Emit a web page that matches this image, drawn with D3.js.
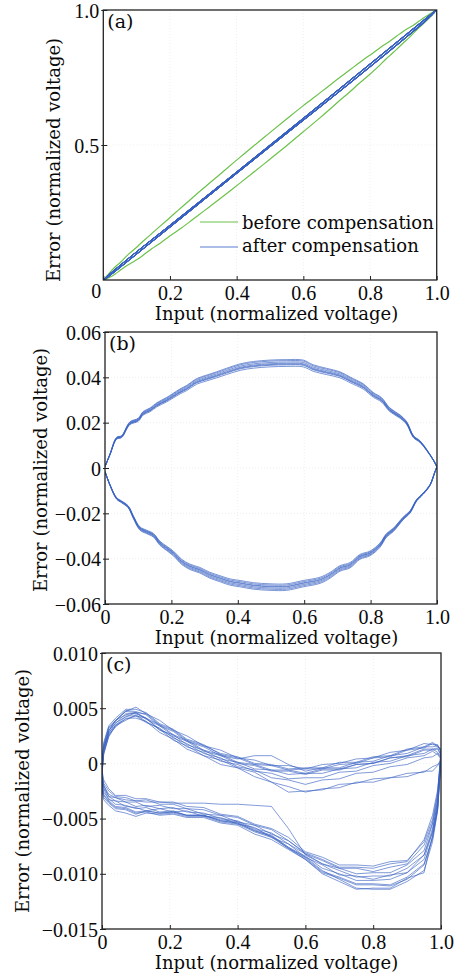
<!DOCTYPE html>
<html>
<head>
<meta charset="utf-8">
<script src="https://cdn.jsdelivr.net/npm/d3@7"></script>
<style>
  body { margin: 0; background: #fff; }
  svg { display: block; }
</style>
</head>
<body>
<svg id="chart" width="459" height="977"></svg>
<script>
// ---------- data ----------
// Panel (b): hysteresis error before compensation (normalized voltage)
const xUpperB = [0, 0.015, 0.035, 0.05, 0.075, 0.10, 0.115, 0.136, 0.156, 0.185, 0.205, 0.226, 0.246, 0.276, 0.306, 0.336, 0.366, 0.407, 0.447, 0.497, 0.547, 0.597, 0.627, 0.667, 0.708, 0.738, 0.758, 0.778, 0.808, 0.833, 0.858, 0.889, 0.909, 0.929, 0.949, 0.969, 0.989, 1.0];
const errUpperB = [0.0006, 0.0060, 0.0131, 0.0138, 0.0197, 0.0212, 0.0241, 0.0256, 0.0278, 0.0300, 0.0318, 0.0337, 0.0352, 0.0381, 0.0396, 0.0410, 0.0425, 0.0444, 0.0454, 0.0460, 0.0462, 0.0460, 0.0440, 0.0425, 0.0410, 0.0388, 0.0374, 0.0359, 0.0322, 0.0300, 0.0256, 0.0226, 0.0197, 0.0138, 0.0116, 0.0079, 0.0035, 0.0005];
const xLowerB = [0, 0.015, 0.035, 0.05, 0.07, 0.085, 0.105, 0.125, 0.146, 0.166, 0.186, 0.206, 0.231, 0.256, 0.286, 0.316, 0.346, 0.377, 0.407, 0.447, 0.497, 0.547, 0.597, 0.648, 0.678, 0.708, 0.738, 0.768, 0.798, 0.828, 0.848, 0.868, 0.898, 0.919, 0.939, 0.959, 0.979, 0.994, 1.0];
const errLowerB = [-0.0016, -0.0075, -0.0134, -0.0149, -0.0171, -0.0215, -0.0266, -0.0281, -0.0296, -0.0332, -0.0354, -0.0376, -0.0413, -0.0435, -0.0450, -0.0472, -0.0487, -0.0502, -0.0509, -0.0519, -0.0524, -0.0524, -0.0509, -0.0494, -0.0472, -0.0442, -0.0428, -0.0391, -0.0376, -0.0340, -0.0296, -0.0273, -0.0222, -0.0193, -0.0141, -0.0112, -0.0075, -0.0016, 0.0005];
// amplitude of each repeated cycle relative to the mean loop
const cycleGainUpperB = [0.970, 0.985, 1.000, 1.012, 1.025, 0.992, 1.035];
const cycleGainLowerB = [1.020, 0.985, 1.000, 0.975, 1.010, 0.995, 1.030];

// Panel (c): residual error after compensation, in units of 0.001
const xC = [0, 0.005, 0.02, 0.04, 0.07, 0.1, 0.13, 0.17, 0.21, 0.25, 0.3, 0.35, 0.4, 0.45, 0.5, 0.55, 0.6, 0.65, 0.7, 0.75, 0.8, 0.85, 0.9, 0.95, 0.975, 0.99, 1.0];
const errUpperC = [
  [-0.3, 1.5, 3.0, 3.9, 4.4, 4.6, 4.1, 3.5, 2.6, 2.1, 1.2, 0.8, 0.1, -0.1, -0.6, -0.6, -0.9, -0.5, -0.5, -0.1, 0.0, 0.5, 0.7, 1.3, 1.3, 1.4, 0.8],
  [-0.6, 1.2, 2.8, 3.4, 4.3, 4.3, 4.1, 3.0, 2.6, 1.7, 1.2, 0.4, 0.1, -0.5, -0.6, -1.0, -0.9, -0.9, -0.5, -0.4, 0.1, 0.2, 0.7, 0.9, 1.3, 1.0, 0.6],
  [-0.1, 1.9, 3.4, 4.1, 4.9, 4.9, 4.6, 3.6, 3.1, 2.2, 1.7, 0.8, 0.5, -0.1, -0.2, -0.6, -0.5, -0.5, -0.1, 0.0, 0.5, 0.6, 1.2, 1.4, 1.8, 1.5, 1.2],
  [-0.8, 1.0, 2.4, 3.4, 3.9, 4.4, 3.8, 3.1, 2.1, 1.6, 0.7, 0.3, -0.4, -0.8, -1.7, -2.1, -2.6, -2.3, -2.2, -1.7, -1.7, -1.3, -1.2, -0.7, -0.7, -0.2, 0.2],
  [-0.4, 1.6, 3.2, 3.8, 4.8, 4.7, 4.4, 3.4, 2.9, 2.0, 1.5, 0.7, 0.4, 0.7, 0.7, -0.1, -0.7, -0.4, -0.4, 0.1, 0.2, 0.7, 0.9, 1.5, 1.5, 1.6, 1.0],
  [-1.0, 0.8, 2.5, 3.5, 4.0, 4.3, 3.7, 3.2, 2.3, 1.8, 0.9, 0.5, -0.3, -0.6, -1.3, -1.5, -1.9, -1.5, -1.4, -0.9, -0.8, -0.3, -0.1, 0.5, 0.6, 0.9, 0.5],
  [-0.2, 1.7, 3.3, 3.9, 4.7, 4.6, 4.5, 3.5, 3.0, 2.1, 1.6, 0.9, 0.6, 0.0, -0.1, -0.5, -0.4, -0.4, 0.1, 0.1, 0.6, 0.7, 1.3, 1.5, 1.9, 1.6, 1.3],
  [-0.5, 1.3, 2.7, 3.7, 4.2, 4.6, 4.0, 3.4, 2.5, 2.0, 1.1, 0.7, 0.0, -0.2, -0.7, -0.7, -1.0, -0.6, -0.6, -0.1, 0.0, 0.5, 0.6, 1.2, 1.2, 1.3, 0.7],
  [-0.7, 1.1, 3.0, 3.6, 4.5, 4.5, 4.1, 3.1, 2.4, 1.5, 1.0, 0.2, -0.1, -0.7, -0.9, -1.4, -1.3, -1.3, -0.8, -0.7, -0.2, 0.0, 0.5, 0.7, 1.1, 0.8, 0.4],
  [-0.3, 1.4, 2.9, 3.9, 4.7, 5.1, 4.5, 3.9, 3.0, 2.5, 1.6, 1.2, 0.5, 0.3, -0.2, -0.2, -0.5, -0.1, 0.0, 0.4, 0.5, 1.0, 1.2, 1.8, 1.7, 1.7, 1.1],
  [-0.9, 0.9, 2.6, 3.3, 4.1, 4.1, 3.8, 2.8, 2.2, 1.3, 0.7, -0.1, -0.4, -1.2, -1.7, -2.6, -2.5, -2.4, -1.9, -1.8, -1.4, -1.3, -0.9, -0.8, -0.3, -0.1, 0.3]
];
const errLowerC = [
  [-1.2, -2.2, -3.0, -3.4, -3.5, -3.9, -3.8, -4.1, -4.0, -4.4, -4.5, -5.0, -5.2, -5.9, -6.3, -7.3, -8.2, -9.1, -9.5, -10.0, -9.9, -9.9, -9.2, -7.9, -5.5, -3.3, 0.8],
  [-0.8, -1.8, -2.5, -3.0, -3.1, -3.4, -3.3, -3.7, -3.7, -4.1, -4.2, -4.7, -4.9, -5.6, -6.0, -7.0, -8.1, -8.7, -9.4, -9.4, -9.5, -9.1, -8.9, -6.9, -4.7, -2.4, 0.6],
  [-2.0, -2.9, -3.5, -4.0, -4.1, -4.5, -4.4, -4.7, -4.6, -4.9, -4.9, -5.4, -5.6, -6.4, -6.9, -7.8, -8.7, -9.9, -10.4, -11.0, -11.0, -11.1, -10.5, -9.2, -6.7, -4.1, 1.2],
  [-2.4, -3.3, -3.8, -4.3, -4.5, -4.8, -4.5, -4.6, -4.5, -4.8, -4.8, -5.3, -5.5, -6.2, -6.7, -7.7, -8.5, -9.7, -10.5, -11.3, -11.4, -11.4, -10.7, -9.7, -7.1, -4.3, 0.2],
  [-1.0, -2.0, -2.8, -3.1, -3.3, -3.4, -3.5, -3.5, -3.6, -3.6, -3.6, -3.7, -3.7, -3.8, -3.9, -5.9, -8.3, -9.1, -9.7, -10.3, -10.2, -10.2, -9.5, -8.3, -5.9, -3.6, 1.0],
  [-1.6, -2.6, -3.2, -3.7, -3.8, -4.1, -4.0, -4.4, -4.3, -4.7, -4.7, -5.2, -5.4, -6.1, -6.6, -7.6, -8.4, -9.5, -10.0, -10.6, -10.6, -10.5, -9.9, -8.7, -6.2, -3.9, 0.5],
  [-0.6, -1.5, -2.3, -2.9, -2.9, -3.2, -3.2, -3.5, -3.5, -3.9, -4.0, -4.6, -4.8, -5.5, -5.9, -6.7, -8.0, -8.5, -9.2, -9.2, -9.3, -8.9, -8.8, -7.1, -5.1, -2.7, 1.3],
  [-1.4, -2.3, -3.3, -3.4, -3.9, -4.0, -4.3, -4.1, -4.4, -4.3, -4.8, -4.9, -5.5, -5.8, -6.7, -7.3, -8.5, -9.2, -10.1, -10.2, -10.5, -10.1, -9.9, -8.3, -6.2, -3.4, 0.7],
  [-1.8, -2.8, -3.4, -3.9, -4.0, -4.4, -4.3, -4.5, -4.4, -4.7, -4.7, -5.2, -5.4, -6.1, -6.6, -7.7, -8.7, -10.0, -10.7, -11.4, -11.3, -11.3, -10.4, -9.9, -6.5, -4.0, 0.4],
  [-1.1, -2.0, -3.0, -3.1, -3.5, -3.5, -3.9, -3.8, -4.1, -4.1, -4.6, -4.7, -5.3, -5.6, -6.4, -7.0, -8.2, -8.8, -9.5, -9.5, -9.8, -9.4, -9.1, -7.4, -5.4, -2.9, 1.1],
  [-2.2, -3.1, -3.6, -4.1, -4.2, -4.6, -4.3, -4.5, -4.4, -4.7, -4.7, -5.1, -5.3, -6.0, -6.5, -7.6, -8.6, -9.8, -10.3, -10.9, -10.9, -11.0, -10.3, -9.1, -6.8, -4.2, 0.3]
];
const C_UNIT = 0.001;

// axes
const xTicks = [0, 0.2, 0.4, 0.6, 0.8, 1.0];
const xTickLabels = ["0", "0.2", "0.4", "0.6", "0.8", "1.0"];
const yTicksA = [0.5, 1.0];
const yTickLabelsA = ["0.5", "1.0"];
const yTicksB = [-0.06, -0.04, -0.02, 0, 0.02, 0.04, 0.06];
const yTickLabelsB = ["\u22120.06", "\u22120.04", "\u22120.02", "0", "0.02", "0.04", "0.06"];
const yTicksC = [-0.015, -0.010, -0.005, 0, 0.005, 0.010];
const yTickLabelsC = ["\u22120.015", "\u22120.010", "\u22120.005", "0", "0.005", "0.010"];
const legendLabels = ["before compensation", "after compensation"];
const xTitle = "Input (normalized voltage)";
const yTitle = "Error (normalized voltage)";

// ---------- styles ----------
const BLUE = "#3862c2";
const GREEN = "#6cc24a";
const TICK_FONT = "'Liberation Serif', serif";
const TEXT_FONT = "'DejaVu Serif', serif";

const svg = d3.select("#chart");
svg.append("rect").attr("width", 459).attr("height", 977).attr("fill", "#fff");

const panels = [
  { id: "a", left: 103.3, right: 436.7, top: 10, bottom: 280, yDomain: [0, 1],
    yTicks: yTicksA, yLabels: yTickLabelsA, titleX: 60, titleY: 160 },
  { id: "b", left: 105, right: 437, top: 332, bottom: 604, yDomain: [-0.06, 0.06],
    yTicks: yTicksB, yLabels: yTickLabelsB, titleX: 46.5, titleY: 470 },
  { id: "c", left: 102, right: 441, top: 653, bottom: 929, yDomain: [-0.015, 0.010],
    yTicks: yTicksC, yLabels: yTickLabelsC, titleX: 29, titleY: 791 }
];
const X_TITLE_CENTER = 276.5;

function drawFrame(p) {
  const x = d3.scaleLinear().domain([0, 1]).range([p.left, p.right]);
  const y = d3.scaleLinear().domain(p.yDomain).range([p.bottom, p.top]);
  const g = svg.append("g");

  // faint grid
  g.append("g").selectAll("line").data(xTicks.slice(1, -1)).join("line")
    .attr("x1", d => x(d)).attr("x2", d => x(d)).attr("y1", p.top).attr("y2", p.bottom)
    .attr("stroke", "#eeeeee").attr("stroke-width", 1).attr("stroke-dasharray", "1,2");
  g.append("g").selectAll("line").data(p.yTicks.filter(v => v !== p.yDomain[0] && v !== p.yDomain[1])).join("line")
    .attr("x1", p.left).attr("x2", p.right).attr("y1", d => y(d)).attr("y2", d => y(d))
    .attr("stroke", "#eeeeee").attr("stroke-width", 1).attr("stroke-dasharray", "1,2");

  // clip path for the data
  svg.append("clipPath").attr("id", "clip-" + p.id).append("rect")
    .attr("x", p.left).attr("y", p.top).attr("width", p.right - p.left).attr("height", p.bottom - p.top);

  return { x, y, g };
}

function drawAxes(p, x, y) {
  const xAxis = d3.axisBottom(x).tickValues(xTicks)
    .tickFormat((d, i) => xTickLabels[i]).tickSizeInner(-4).tickSizeOuter(0);
  const gx = svg.append("g").attr("transform", `translate(0,${p.bottom})`).call(xAxis);
  gx.select(".domain").remove();
  gx.selectAll(".tick line").attr("stroke", "#222").attr("stroke-width", 1);
  gx.selectAll(".tick text").attr("y", 20).attr("dy", 0)
    .attr("font-family", TICK_FONT).attr("font-size", 20).attr("fill", "#0a0a0a");
  if (p.id === "a") {
    gx.selectAll(".tick text").filter(d => d === 0)
      .attr("text-anchor", "end").attr("x", -2.5).attr("y", 18);
  }

  const yAxis = d3.axisLeft(y).tickValues(p.yTicks)
    .tickFormat((d, i) => p.yLabels[i]).tickSizeInner(-4).tickSizeOuter(0);
  const gy = svg.append("g").attr("transform", `translate(${p.left},0)`).call(yAxis);
  gy.select(".domain").remove();
  gy.selectAll(".tick line").attr("stroke", "#222").attr("stroke-width", 1).attr("x1", -2);
  gy.selectAll(".tick text").attr("x", -4).attr("dy", "0.35em")
    .attr("font-family", TICK_FONT).attr("font-size", 20).attr("fill", "#0a0a0a");

  // frame
  svg.append("rect").attr("x", p.left).attr("y", p.top)
    .attr("width", p.right - p.left).attr("height", p.bottom - p.top)
    .attr("fill", "none").attr("stroke", "#222").attr("stroke-width", 1.3);

  // titles
  svg.append("text").attr("x", X_TITLE_CENTER).attr("y", p.bottom + 40)
    .attr("text-anchor", "middle").attr("font-family", TEXT_FONT).attr("font-size", 18)
    .attr("fill", "#0a0a0a").text(xTitle);
  svg.append("text").attr("transform", `translate(${p.titleX},${p.titleY}) rotate(-90)`)
    .attr("text-anchor", "middle").attr("font-family", TEXT_FONT).attr("font-size", 18)
    .attr("fill", "#0a0a0a").text(yTitle);
  svg.append("text").attr("x", p.left + 4).attr("y", p.top + 18)
    .attr("font-family", TEXT_FONT).attr("font-size", 19).attr("fill", "#0a0a0a")
    .text(`(${p.id})`);
}

// ---------- panel (a): output vs input ----------
{
  const p = panels[0];
  const { x, y } = drawFrame(p);
  const line = d3.line().x(d => x(d[0])).y(d => y(d[1])).curve(d3.curveCatmullRom.alpha(0.5));
  const plot = svg.append("g").attr("clip-path", "url(#clip-a)");

  // before compensation: output = input + error
  [[xUpperB, errUpperB], [xLowerB, errLowerB]].forEach(([xs, es]) => {
    plot.append("path").datum(xs.map((v, i) => [v, v + es[i]]))
      .attr("d", line).attr("fill", "none").attr("stroke", GREEN).attr("stroke-width", 1.2);
  });
  // after compensation
  errUpperC.forEach((up, k) => {
    const lo = errLowerC[k];
    const pts = xC.map((v, i) => [v, v + up[i] * C_UNIT])
      .concat(xC.map((v, i) => [v, v + lo[i] * C_UNIT]).reverse());
    plot.append("path").datum(pts).attr("d", d3.line().x(d => x(d[0])).y(d => y(d[1])))
      .attr("fill", "none").attr("stroke", BLUE).attr("stroke-width", 1.0).attr("stroke-opacity", 0.9);
  });

  // legend
  const lg = svg.append("g");
  const legendRows = [
    { label: legendLabels[0], color: GREEN, ly: 222, ty: 228.5 },
    { label: legendLabels[1], color: "#5a7ed2", ly: 247, ty: 252 }
  ];
  legendRows.forEach(r => {
    lg.append("line").attr("x1", 200).attr("x2", 238).attr("y1", r.ly).attr("y2", r.ly)
      .attr("stroke", r.color).attr("stroke-width", 1.2);
    lg.append("text").attr("x", 242).attr("y", r.ty).attr("font-family", TEXT_FONT)
      .attr("font-size", 18).attr("fill", "#0a0a0a").text(r.label);
  });

  drawAxes(p, x, y);
}

// ---------- panel (b): error before compensation ----------
{
  const p = panels[1];
  const { x, y } = drawFrame(p);
  const line = d3.line().x(d => x(d[0])).y(d => y(d[1])).curve(d3.curveCatmullRom.alpha(0.5));
  const plot = svg.append("g").attr("clip-path", "url(#clip-b)");
  cycleGainUpperB.forEach((gu, k) => {
    const gl = cycleGainLowerB[k];
    const pts = xUpperB.map((v, i) => [v, errUpperB[i] * gu])
      .concat(xLowerB.map((v, i) => [v, errLowerB[i] * gl]).reverse());
    plot.append("path").datum(pts).attr("d", line)
      .attr("fill", "none").attr("stroke", BLUE).attr("stroke-width", 0.8).attr("stroke-opacity", 0.85);
  });
  drawAxes(p, x, y);
}

// ---------- panel (c): error after compensation ----------
{
  const p = panels[2];
  const { x, y } = drawFrame(p);
  const line = d3.line().x(d => x(d[0])).y(d => y(d[1]));
  const plot = svg.append("g").attr("clip-path", "url(#clip-c)");
  errUpperC.forEach((up, k) => {
    const lo = errLowerC[k];
    const pts = xC.map((v, i) => [v, up[i] * C_UNIT])
      .concat(xC.map((v, i) => [v, lo[i] * C_UNIT]).reverse());
    pts.push(pts[0]);
    plot.append("path").datum(pts).attr("d", line)
      .attr("fill", "none").attr("stroke", BLUE).attr("stroke-width", 0.8).attr("stroke-opacity", 0.8);
  });
  drawAxes(p, x, y);
}
</script>
</body>
</html>
